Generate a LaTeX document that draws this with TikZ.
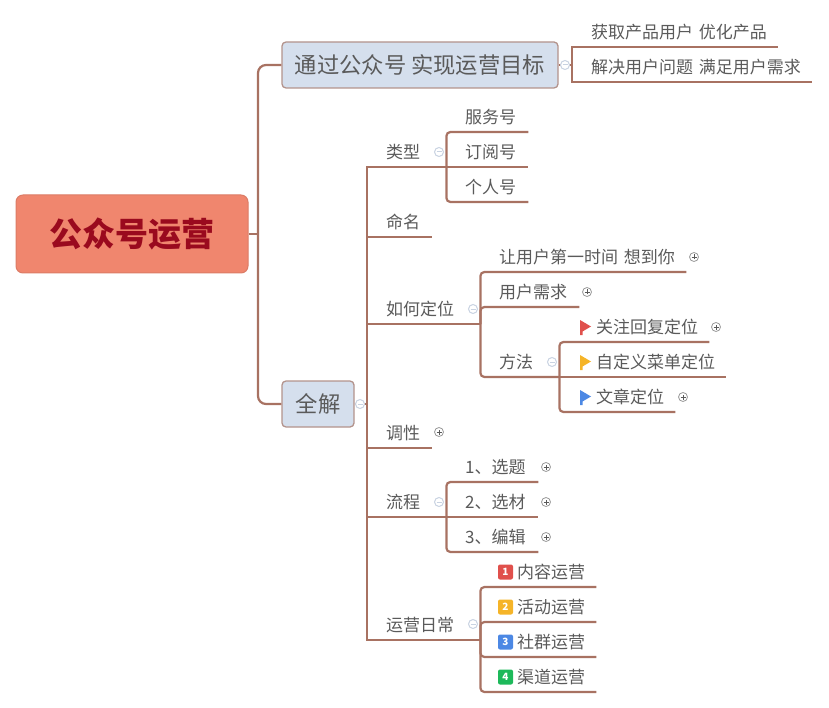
\documentclass[tikz,border=0pt]{standalone}
\usepackage{fontspec}
\setmainfont{Noto Sans CJK SC}
\definecolor{linebrown}{HTML}{A87262}
\definecolor{textgrey}{HTML}{5A5A5A}
\definecolor{rootfill}{HTML}{F0866E}
\definecolor{rootedge}{HTML}{DC7C66}
\definecolor{roottext}{HTML}{9A0A1E}
\definecolor{topicfill}{HTML}{D5DFED}
\definecolor{topicedge}{HTML}{B3938C}
\definecolor{foldedge}{HTML}{C9D3E2}
\definecolor{markred}{HTML}{E0504C}
\definecolor{markyellow}{HTML}{F5B428}
\definecolor{markblue}{HTML}{4C88E4}
\definecolor{markgreen}{HTML}{1DB95A}
\tikzset{
root/.style = {draw=rootedge,fill=rootfill,line width=1pt,rounded corners=7pt,minimum width=232pt,minimum height=78pt,inner sep=0pt,text=roottext,font=\fontsize{33}{36}\selectfont\bfseries},
topic/.style = {draw=topicedge,fill=topicfill,line width=1.3pt,rounded corners=4pt,minimum height=46pt,inner sep=0pt,text=textgrey,font=\fontsize{22.3}{26}\selectfont},
row/.style = {anchor=south west,inner sep=0pt,minimum height=30pt,text width=#1,align=left,text=textgrey,font=\fontsize{17}{20}\selectfont},
branch/.style = {draw=linebrown,line width=2.2pt},
bendline/.style = {branch,rounded corners=4pt},
widebend/.style = {branch,rounded corners=8pt},
foldminus/.style = {circle,draw=foldedge,fill=white,line width=1pt,minimum size=9pt,inner sep=0pt,path picture={\draw[foldedge,line width=1pt] ([xshift=-2.5pt]path picture bounding box.center) -- ([xshift=2.5pt]path picture bounding box.center);}},
foldplus/.style = {circle,draw=gray!80,fill=white,line width=.8pt,minimum size=9pt,inner sep=0pt,path picture={\draw[textgrey,line width=.8pt] ([xshift=-2.5pt]path picture bounding box.center) -- ([xshift=2.5pt]path picture bounding box.center) ([yshift=-2.5pt]path picture bounding box.center) -- ([yshift=2.5pt]path picture bounding box.center);}},
badge/.style = {rounded corners=2pt,minimum size=15pt,inner sep=0pt,text=white,font=\fontsize{10}{10}\selectfont\bfseries},
flag/.pic = {\fill[#1] (0,0) -- (11,6.5) -- (2.5,11.5) -- (2.5,15) -- (0,15) -- cycle;}
}
\begin{document}
\begin{tikzpicture}[x=1pt,y=-1pt]
\useasboundingbox (0,0) rectangle (829,708);

\node[root] (yunying) at (132,234) {公众号运营};
\node[topic,minimum width=276pt] (mubiao) at (420,65) {通过公众号 实现运营目标};
\node[topic,minimum width=72pt] (quanjie) at (318,404) {全解};

\coordinate (rootjoint) at (258,234);
\coordinate (mubiaojoint) at (572,65);
\coordinate (quanjiejoint) at (367,404);

\node[row=187pt] (huoqu) at (591,47) {获取产品用户 优化产品};
\node[row=221pt] (jiejue) at (591,82) {解决用户问题 满足用户需求};

\node[row=60pt] (leixing) at (386,167) {类型};
\node[row=63pt] (fuwu) at (465,132) {服务号};
\node[row=63pt] (dingyue) at (465,167) {订阅号};
\node[row=63pt] (geren) at (465,202) {个人号};
\node[row=46pt] (mingming) at (386,237) {命名};

\node[row=94pt] (dingwei) at (386,324) {如何定位};
\node[row=187pt] (xiangdao) at (499,272) {让用户第一时间 想到你};
\node[row=80pt] (xuqiu) at (499,307) {用户需求};
\node[row=60pt] (fangfa) at (499,377) {方法};
\node[row=113pt] (guanzhu) at (596,342) {关注回复定位};
\node[row=130pt] (caidan) at (596,377) {自定义菜单定位};
\node[row=79pt] (wenzhang) at (596,412) {文章定位};

\node[row=46pt] (tiaoxing) at (386,448) {调性};

\node[row=60pt] (liucheng) at (386,517) {流程};
\node[row=73pt] (xuanti) at (465,482) {1、选题};
\node[row=73pt] (xuancai) at (465,517) {2、选材};
\node[row=73pt] (bianji) at (465,552) {3、编辑};

\node[row=94pt] (richang) at (386,640) {运营日常};
\node[row=79pt] (neirong) at (517,587) {内容运营};
\node[row=79pt] (huodong) at (517,622) {活动运营};
\node[row=79pt] (shequn) at (517,657) {社群运营};
\node[row=79pt] (qudao) at (517,692) {渠道运营};

\draw[branch] (yunying.east) -- (rootjoint);
\draw[widebend] (rootjoint) |- (mubiao.west);
\draw[widebend] (rootjoint) |- (quanjie.west);

\draw[branch] (mubiao.east) -- (mubiaojoint);
\draw[branch] (mubiaojoint) |- (huoqu.south east);
\draw[branch] (mubiaojoint) |- (jiejue.south east);

\draw[branch] (quanjie.east) -- (quanjiejoint);
\draw[branch] (quanjiejoint) |- (leixing.south east);
\draw[branch] (quanjiejoint) |- (mingming.south east);
\draw[branch] (quanjiejoint) |- (dingwei.south east);
\draw[branch] (quanjiejoint) |- (tiaoxing.south east);
\draw[branch] (quanjiejoint) |- (liucheng.south east);
\draw[branch] (quanjiejoint) |- (richang.south east);

\draw[bendline] (leixing.south east) |- (fuwu.south east);
\draw[branch] (leixing.south east) -- (dingyue.south east);
\draw[bendline] (leixing.south east) |- (geren.south east);

\draw[bendline] (dingwei.south east) |- (xiangdao.south east);
\draw[bendline] (dingwei.south east) |- (xuqiu.south east);
\draw[bendline] (dingwei.south east) |- (fangfa.south east);
\draw[bendline] (fangfa.south east) |- (guanzhu.south east);
\draw[branch] (fangfa.south east) -- (caidan.south east);
\draw[bendline] (fangfa.south east) |- (wenzhang.south east);

\draw[bendline] (liucheng.south east) |- (xuanti.south east);
\draw[branch] (liucheng.south east) -- (xuancai.south east);
\draw[bendline] (liucheng.south east) |- (bianji.south east);

\draw[bendline] (richang.south east) |- (neirong.south east);
\draw[bendline] (richang.south east) |- (huodong.south east);
\draw[bendline] (richang.south east) |- (shequn.south east);
\draw[bendline] (richang.south east) |- (qudao.south east);

\node[foldminus] (foldmubiao) at (565,65) {};
\node[foldminus] (foldquanjie) at (360,404) {};
\node[foldminus] (foldleixing) at (439,152) {};
\node[foldminus] (folddingwei) at (473,309) {};
\node[foldminus] (foldfangfa) at (552,362) {};
\node[foldminus] (foldliucheng) at (439,502) {};
\node[foldminus] (foldrichang) at (473,624) {};

\node[foldplus] (plusxiangdao) at (694,257) {};
\node[foldplus] (plusxuqiu) at (587,292) {};
\node[foldplus] (plusguanzhu) at (716,327) {};
\node[foldplus] (pluswenzhang) at (683,397) {};
\node[foldplus] (plustiaoxing) at (439,432) {};
\node[foldplus] (plusxuanti) at (546,467) {};
\node[foldplus] (plusxuancai) at (546,502) {};
\node[foldplus] (plusbianji) at (546,537) {};

\pic at (580,320) {flag=markred};
\pic at (580,355) {flag=markyellow};
\pic at (580,390) {flag=markblue};

\node[badge,fill=markred] (badgeone) at (505.5,572) {1};
\node[badge,fill=markyellow] (badgetwo) at (505.5,607) {2};
\node[badge,fill=markblue] (badgethree) at (505.5,642) {3};
\node[badge,fill=markgreen] (badgefour) at (505.5,677) {4};

\end{tikzpicture}
\end{document}
